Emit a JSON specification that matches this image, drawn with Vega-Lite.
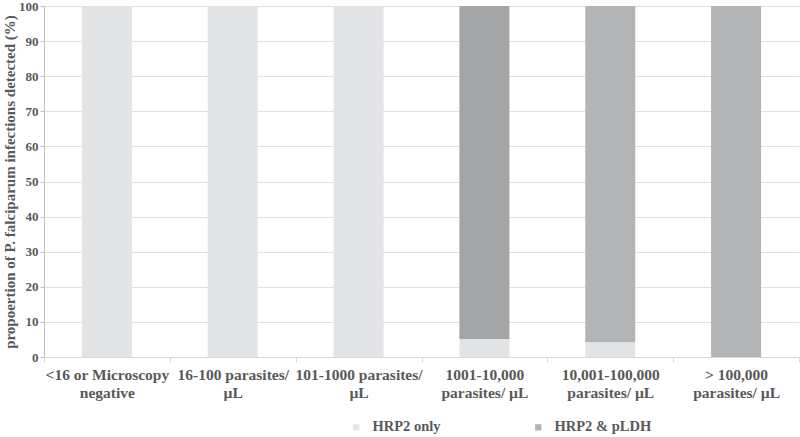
{
  "$schema": "https://vega.github.io/schema/vega-lite/v6.json",
  "width": 755,
  "height": 351,
  "autosize": {"type": "none"},
  "padding": {"left": 44, "top": 6, "right": 1, "bottom": 80},
  "background": "white",
  "config": {
    "view": {"stroke": null},
    "font": "Liberation Serif"
  },
  "data": {
    "values": [
      {"category": "<16 or Microscopy|negative", "series": "HRP2 only", "value": 100},
      {"category": "<16 or Microscopy|negative", "series": "HRP2 & pLDH", "value": 0},
      {"category": "16-100 parasites/|µL", "series": "HRP2 only", "value": 100},
      {"category": "16-100 parasites/|µL", "series": "HRP2 & pLDH", "value": 0},
      {"category": "101-1000 parasites/|µL", "series": "HRP2 only", "value": 100},
      {"category": "101-1000 parasites/|µL", "series": "HRP2 & pLDH", "value": 0},
      {"category": "1001-10,000|parasites/ µL", "series": "HRP2 only", "value": 5.1},
      {"category": "1001-10,000|parasites/ µL", "series": "HRP2 & pLDH", "value": 94.9},
      {"category": "10,001-100,000|parasites/ µL", "series": "HRP2 only", "value": 4.2},
      {"category": "10,001-100,000|parasites/ µL", "series": "HRP2 & pLDH", "value": 95.8},
      {"category": "> 100,000|parasites/ µL", "series": "HRP2 only", "value": 0},
      {"category": "> 100,000|parasites/ µL", "series": "HRP2 & pLDH", "value": 100}
    ]
  },
  "mark": {"type": "bar", "width": 50},
  "encoding": {
    "x": {
      "field": "category",
      "type": "nominal",
      "sort": null,
      "scale": {"paddingInner": 0, "paddingOuter": 0},
      "axis": {
        "title": null,
        "labelAngle": 0,
        "labelExpr": "datum.value ? split(datum.value, '|') : ''",
        "labelFont": "Liberation Serif",
        "labelFontWeight": "bold",
        "labelFontSize": 15.5,
        "labelColor": "#595959",
        "labelLineHeight": 18,
        "labelPadding": 5,
        "labelLimit": 200,
        "domainColor": "#d9d9d9",
        "tickColor": "#d9d9d9",
        "tickBand": "extent",
        "tickSize": 5,
        "grid": false
      }
    },
    "y": {
      "field": "value",
      "type": "quantitative",
      "stack": "zero",
      "scale": {"domain": [0, 100], "nice": false},
      "axis": {
        "title": "propoertion of P. falciparum infections detected (%)",
        "titleFont": "Liberation Serif",
        "titleFontWeight": "bold",
        "titleFontSize": 15,
        "titleColor": "#595959",
        "titlePadding": 1,
        "values": [0, 10, 20, 30, 40, 50, 60, 70, 80, 90, 100],
        "labelFont": "Liberation Serif",
        "labelFontWeight": "bold",
        "labelFontSize": 13,
        "labelColor": "#595959",
        "labelPadding": 2,
        "domainColor": "#bfbfbf",
        "tickColor": "#bfbfbf",
        "tickSize": 4,
        "gridColor": "#e0e0e0"
      }
    },
    "order": {"field": "series", "sort": "descending"},
    "color": {
      "condition": {
        "test": "datum.series == 'HRP2 & pLDH' && datum.category == '1001-10,000|parasites/ µL'",
        "value": "#a4a5a7"
      },
      "field": "series",
      "type": "nominal",
      "sort": ["HRP2 only", "HRP2 & pLDH"],
      "scale": {"domain": ["HRP2 only", "HRP2 & pLDH"], "range": ["#e3e4e6", "#b3b4b6"]},
      "legend": {
        "title": null,
        "orient": "none",
        "direction": "horizontal",
        "legendX": 305,
        "legendY": 414,
        "symbolType": "square",
        "symbolSize": 40,
        "symbolStrokeWidth": 0,
        "labelFont": "Liberation Serif",
        "labelFontWeight": "bold",
        "labelFontSize": 14.5,
        "labelColor": "#595959",
        "labelOffset": 9,
        "columnPadding": 90
      }
    }
  }
}
